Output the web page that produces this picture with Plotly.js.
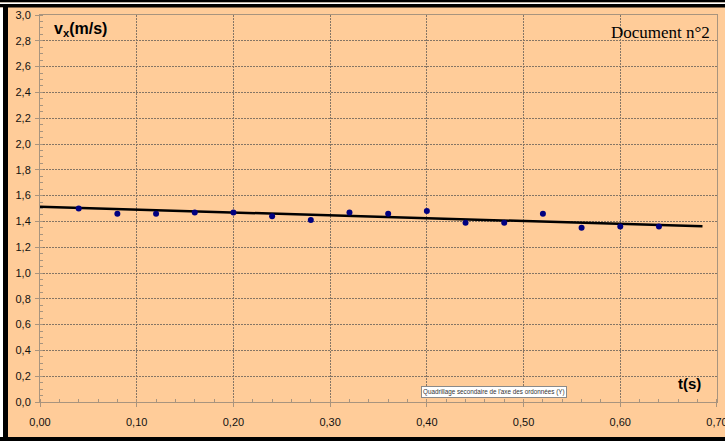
<!DOCTYPE html>
<html>
<head>
<meta charset="utf-8">
<script src="https://cdn.plot.ly/plotly-3.0.1.min.js"></script>
<style>
html,body{margin:0;padding:0;background:#fff;overflow:hidden;}
#chart{width:725px;height:441px;overflow:hidden;}
</style>
</head>
<body>
<div id="chart"></div>
<script>
// Data
const timeS = [0.04,0.08,0.12,0.16,0.20,0.24,0.28,0.32,0.36,0.40,0.44,0.48,0.52,0.56,0.60,0.64];
const vxMS  = [1.50,1.46,1.46,1.47,1.47,1.44,1.41,1.47,1.46,1.48,1.39,1.39,1.46,1.35,1.36,1.36];
const fitT  = [0.00, 0.685];
const fitV  = [1.513, 1.362];
const xTickVals = [0,0.1,0.2,0.3,0.4,0.5,0.6,0.7];
const yTickVals = [0,0.2,0.4,0.6,0.8,1.0,1.2,1.4,1.6,1.8,2.0,2.2,2.4,2.6,2.8,3.0];

const W = 725, H = 441;
const M = {l:40, r:8, t:15, b:39};
const PW = W - M.l - M.r, PH = H - M.t - M.b;
const px = x => (x - M.l) / PW;
const py = y => (H - M.b - y) / PH;
function rect(x0,y0,x1,y1,color){
  return {type:'rect', xref:'paper', yref:'paper', x0:px(x0), x1:px(x1), y0:py(y0), y1:py(y1),
          fillcolor:color, line:{width:0}, layer:'above'};
}

const bg = '#FFCC99';
const gridC = '#857565';
const axisC = '#a8947e';

const traces = [
  {x: fitT, y: fitV, mode:'lines', line:{color:'#000000', width:2.5}, hoverinfo:'skip', showlegend:false, cliponaxis:false},
  {x: timeS, y: vxMS, mode:'markers', marker:{color:'#000080', size:6}, showlegend:false}
];

const layout = {
  width:W, height:H,
  margin:{l:M.l, r:M.r, t:M.t, b:M.b, pad:0},
  paper_bgcolor:bg, plot_bgcolor:bg,
  separators:', ',
  font:{family:'Liberation Sans, Arial, sans-serif', size:11, color:'#111'},
  xaxis:{
    range:[0,0.70001], tickvals:xTickVals, tickformat:'.2f', ticklabeloverflow:'allow',
    showgrid:true, gridcolor:gridC, griddash:'2px,1px', gridwidth:1,
    showline:true, linecolor:axisC, linewidth:1, mirror:true,
    ticks:'outside', ticklen:4, tickcolor:axisC, ticklabelstandoff:6,
    minor:{dtick:0.02, ticks:'inside', ticklen:3, tickcolor:axisC, showgrid:false},
    zeroline:false, fixedrange:true, automargin:false
  },
  yaxis:{
    range:[0,3.0001], tickvals:yTickVals, tickformat:'.1f', ticklabeloverflow:'allow',
    showgrid:true, gridcolor:gridC, griddash:'2px,1px', gridwidth:1,
    showline:true, linecolor:axisC, linewidth:1, mirror:true,
    ticks:'outside', ticklen:4, tickcolor:axisC, ticklabelstandoff:2,
    minor:{dtick:0.05, ticks:'inside', ticklen:3, tickcolor:axisC, showgrid:false},
    zeroline:false, fixedrange:true, automargin:false
  },
  annotations:[
    {xref:'paper', yref:'paper', x:px(52), y:py(30), xanchor:'left', yanchor:'middle', showarrow:false,
     text:'<b>v<sub>x</sub>(m/s)</b>', font:{family:'Liberation Sans, Arial, sans-serif', size:16, color:'#000'}},
    {xref:'paper', yref:'paper', x:px(712), y:py(33), xanchor:'right', yanchor:'middle', showarrow:false,
     text:'Document n°2', font:{family:'Liberation Serif, Times New Roman, serif', size:17, color:'#000'}},
    {xref:'paper', yref:'paper', x:px(703), y:py(383), xanchor:'right', yanchor:'middle', showarrow:false,
     text:'<b>t(s)</b>', font:{family:'Liberation Sans, Arial, sans-serif', size:15, color:'#000'}},
    {xref:'paper', yref:'paper', x:px(494), y:py(392), xanchor:'center', yanchor:'middle', showarrow:false,
     text:"Quadrillage secondaire de l'axe des ordonnées (Y)", bgcolor:'#ffffff', bordercolor:'#8a8a8a',
     borderwidth:1, borderpad:1, font:{family:'Liberation Sans, Arial, sans-serif', size:6.3, color:'#333'}}
  ],
  shapes:[
    rect(0,0,725,2.5,'#000'),
    rect(0,2.5,725,4,'#fff'),
    rect(0,4,725,7.5,'#000'),
    rect(0,7.5,3,441,'#fff'),
    rect(3,4,8,441,'#000'),
    rect(0,437,725,441,'#000')
  ]
};

Plotly.newPlot('chart', traces, layout, {displayModeBar:false, staticPlot:true});
</script>
</body>
</html>
